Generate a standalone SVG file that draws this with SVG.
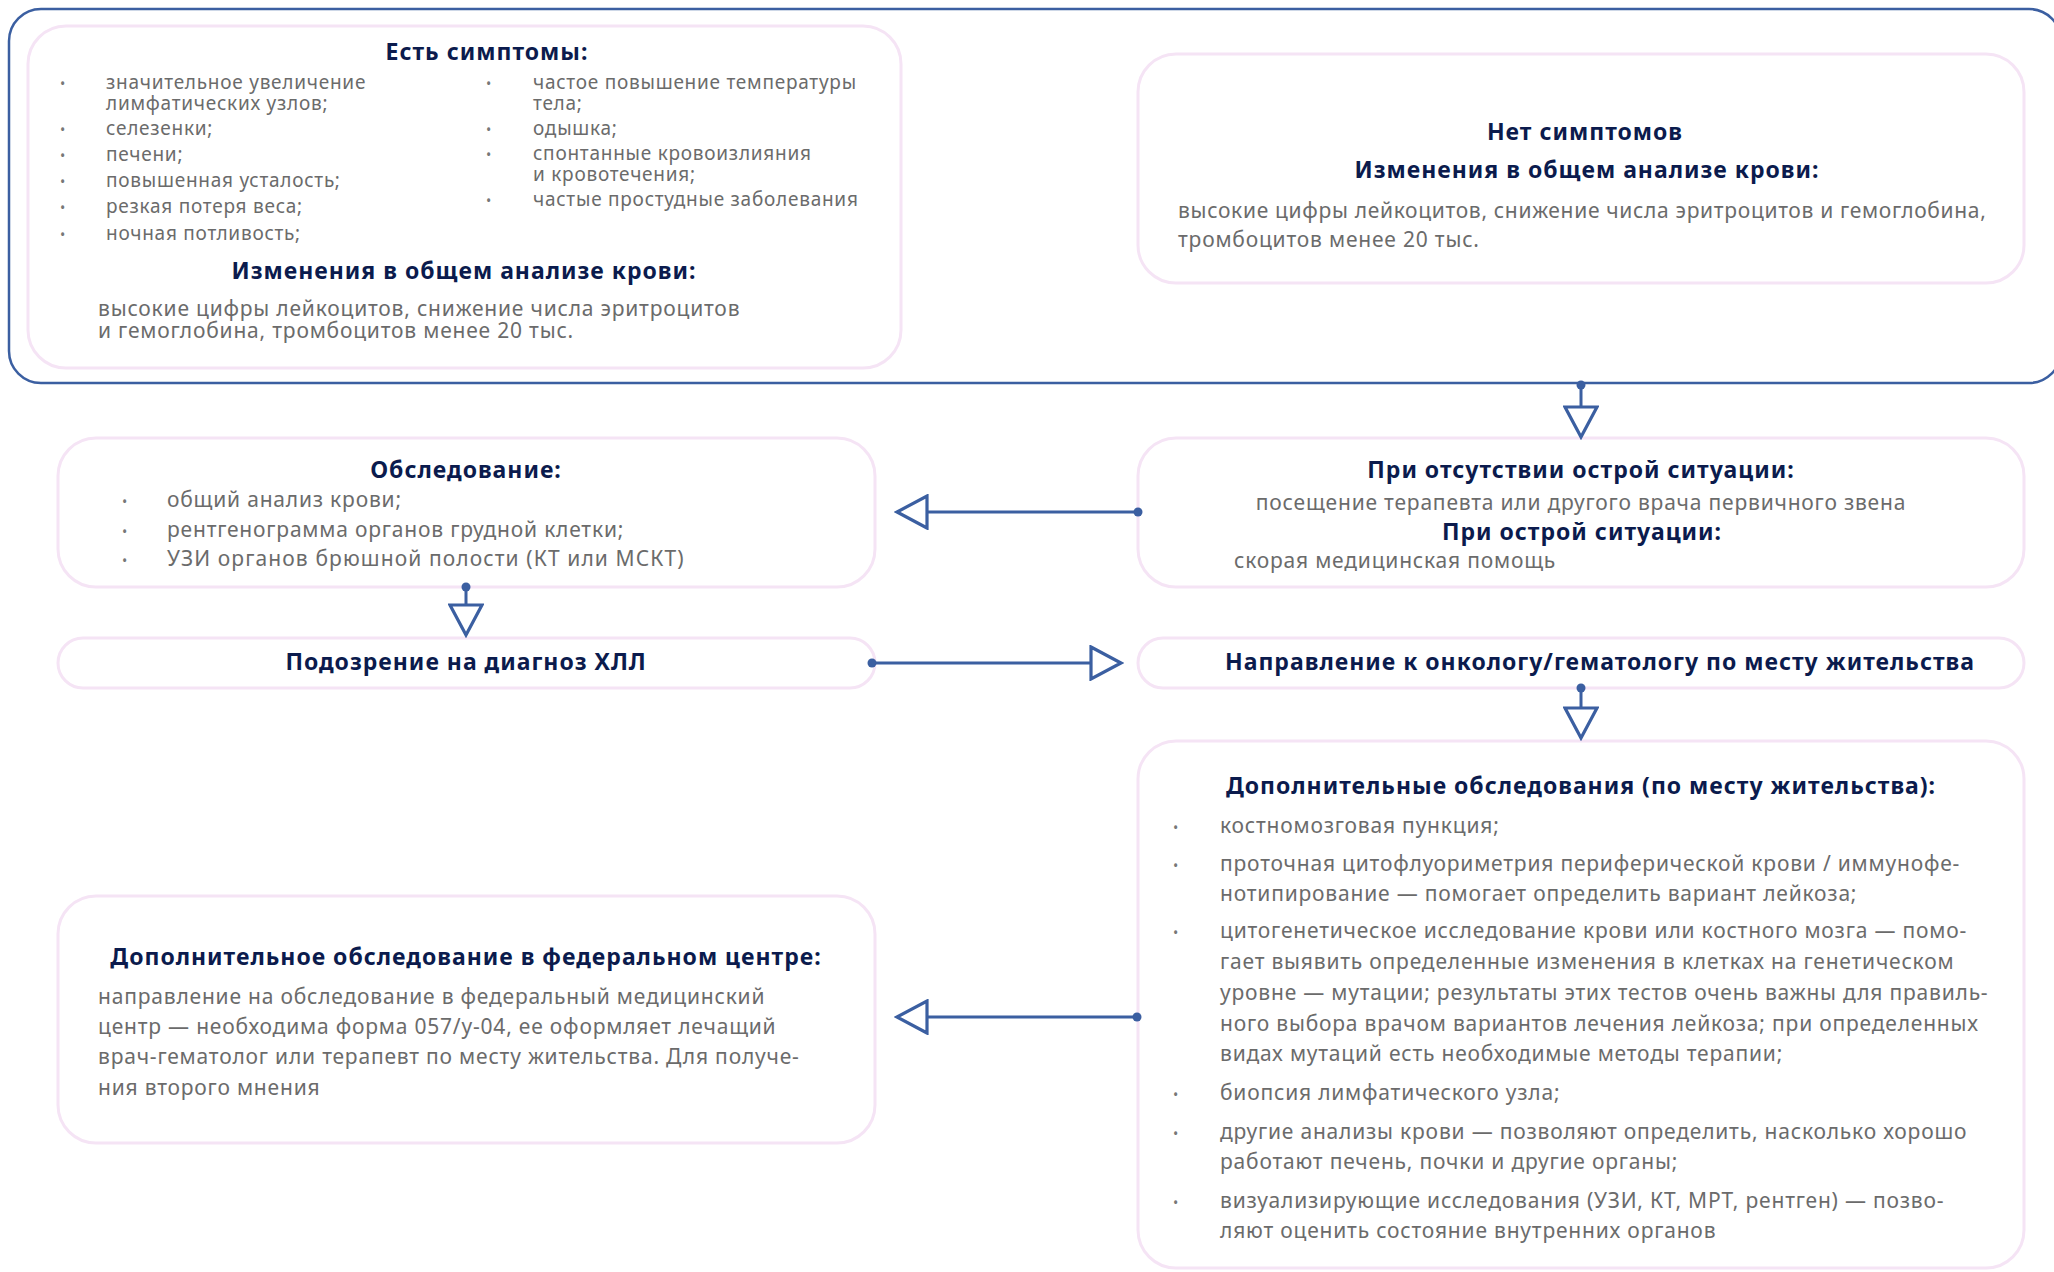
<svg xmlns="http://www.w3.org/2000/svg" width="2054" height="1272" viewBox="0 0 2054 1272">
<defs>
<style>
.box{fill:#fff;stroke:#f5e4f5;stroke-width:3}
.outer{fill:none;stroke:#3b5fa1;stroke-width:2.5}
.h{font-family:"Noto Sans","DejaVu Sans",sans-serif;font-weight:700;font-size:23px;fill:#0b1b4d;text-anchor:middle;letter-spacing:1px}
.t{font-family:"Noto Sans","DejaVu Sans",sans-serif;font-size:21px;fill:#6b6b6b;letter-spacing:0.8px}
.s{font-size:19px;letter-spacing:0.75px}
.c{text-anchor:middle}
.b{font-family:"Noto Sans","DejaVu Sans",sans-serif;font-size:14px;fill:#777}
.ln{fill:none;stroke:#3b5fa1;stroke-width:3}
</style>
<marker id="tri" viewBox="0 0 36 36" markerWidth="36" markerHeight="36" refX="33" refY="18" orient="auto" markerUnits="userSpaceOnUse">
<path d="M3,2 L33,18 L3,34 Z" fill="#fff" stroke="#3b5fa1" stroke-width="3.2" stroke-linejoin="miter"/>
</marker>
<marker id="dot" viewBox="0 0 12 12" markerWidth="12" markerHeight="12" refX="6" refY="6" orient="auto" markerUnits="userSpaceOnUse">
<circle cx="6" cy="6" r="4.5" fill="#3b5fa1"/>
</marker>
</defs>
<rect width="2054" height="1272" fill="#fff"/>

<g id="symptoms-group">
<rect class="outer" x="9" y="9" width="2052" height="374" rx="32"/>
</g>

<g id="node-symptoms">
<rect class="box" x="28" y="26" width="873" height="342" rx="38"/>
<text class="h" x="487" y="60">Есть симптомы:</text>
<text class="b" x="60" y="89">•</text>
<text class="t s" x="106" y="89">значительное увеличение</text>
<text class="t s" x="106" y="110">лимфатических узлов;</text>
<text class="b" x="60" y="135">•</text>
<text class="t s" x="106" y="135">селезенки;</text>
<text class="b" x="60" y="161">•</text>
<text class="t s" x="106" y="161">печени;</text>
<text class="b" x="60" y="187">•</text>
<text class="t s" x="106" y="187">повышенная усталость;</text>
<text class="b" x="60" y="213">•</text>
<text class="t s" x="106" y="213">резкая потеря веса;</text>
<text class="b" x="60" y="240">•</text>
<text class="t s" x="106" y="240">ночная потливость;</text>
<text class="b" x="486" y="89">•</text>
<text class="t s" x="533" y="89">частое повышение температуры</text>
<text class="t s" x="533" y="110">тела;</text>
<text class="b" x="486" y="135">•</text>
<text class="t s" x="533" y="135">одышка;</text>
<text class="b" x="486" y="160">•</text>
<text class="t s" x="533" y="160">спонтанные кровоизлияния</text>
<text class="t s" x="533" y="181">и кровотечения;</text>
<text class="b" x="486" y="206">•</text>
<text class="t s" x="533" y="206">частые простудные заболевания</text>
<text class="h" x="464" y="279">Изменения в общем анализе крови:</text>
<text class="t" x="98" y="316">высокие цифры лейкоцитов, снижение числа эритроцитов</text>
<text class="t" x="98" y="338">и гемоглобина, тромбоцитов менее 20 тыс.</text>
</g>

<g id="node-no-symptoms">
<rect class="box" x="1138" y="54" width="886" height="229" rx="38"/>
<text class="h" x="1585" y="140">Нет симптомов</text>
<text class="h" x="1587" y="178">Изменения в общем анализе крови:</text>
<text class="t" x="1178" y="218" style="letter-spacing:0.68px">высокие цифры лейкоцитов, снижение числа эритроцитов и гемоглобина,</text>
<text class="t" x="1178" y="247">тромбоцитов менее 20 тыс.</text>
</g>

<g id="node-situation">
<rect class="box" x="1138" y="438" width="886" height="149" rx="38"/>
<text class="h" x="1581" y="478">При отсутствии острой ситуации:</text>
<text class="t c" x="1581" y="510">посещение терапевта или другого врача первичного звена</text>
<text class="h" x="1582" y="540">При острой ситуации:</text>
<text class="t" x="1234" y="568">скорая медицинская помощь</text>
</g>

<g id="node-exam">
<rect class="box" x="58" y="438" width="817" height="149" rx="38"/>
<text class="h" x="466" y="478">Обследование:</text>
<text class="b" x="122" y="507">•</text>
<text class="t" x="167" y="507">общий анализ крови;</text>
<text class="b" x="122" y="537">•</text>
<text class="t" x="167" y="537">рентгенограмма органов грудной клетки;</text>
<text class="b" x="122" y="566">•</text>
<text class="t" x="167" y="566" style="letter-spacing:1.1px">УЗИ органов брюшной полости (КТ или МСКТ)</text>
</g>

<g id="node-suspicion">
<rect class="box" x="58" y="638" width="817" height="50" rx="25"/>
<text class="h" x="466" y="670">Подозрение на диагноз ХЛЛ</text>
</g>

<g id="node-referral">
<rect class="box" x="1138" y="638" width="886" height="50" rx="25"/>
<text class="h" x="1600" y="670">Направление к онкологу/гематологу по месту жительства</text>
</g>

<g id="node-additional-local">
<rect class="box" x="1138" y="741" width="886" height="527" rx="38"/>
<text class="h" x="1581" y="794">Дополнительные обследования (по месту жительства):</text>
<text class="b" x="1173" y="833">•</text>
<text class="t" x="1220" y="833">костномозговая пункция;</text>
<text class="b" x="1173" y="871">•</text>
<text class="t" x="1220" y="871">проточная цитофлуориметрия периферической крови / иммунофе-</text>
<text class="t" x="1220" y="901">нотипирование — помогает определить вариант лейкоза;</text>
<text class="b" x="1173" y="938">•</text>
<text class="t" x="1220" y="938">цитогенетическое исследование крови или костного мозга — помо-</text>
<text class="t" x="1220" y="969">гает выявить определенные изменения в клетках на генетическом</text>
<text class="t" x="1220" y="1000">уровне — мутации; результаты этих тестов очень важны для правиль-</text>
<text class="t" x="1220" y="1031">ного выбора врачом вариантов лечения лейкоза; при определенных</text>
<text class="t" x="1220" y="1061">видах мутаций есть необходимые методы терапии;</text>
<text class="b" x="1173" y="1100">•</text>
<text class="t" x="1220" y="1100">биопсия лимфатического узла;</text>
<text class="b" x="1173" y="1139">•</text>
<text class="t" x="1220" y="1139">другие анализы крови —  позволяют определить, насколько хорошо</text>
<text class="t" x="1220" y="1169">работают печень, почки и другие органы;</text>
<text class="b" x="1173" y="1208">•</text>
<text class="t" x="1220" y="1208">визуализирующие исследования (УЗИ, КТ, МРТ, рентген) — позво-</text>
<text class="t" x="1220" y="1238">ляют оценить состояние внутренних органов</text>
</g>

<g id="node-federal">
<rect class="box" x="58" y="896" width="817" height="247" rx="38"/>
<text class="h" x="466" y="965">Дополнительное обследование в федеральном центре:</text>
<text class="t" x="98" y="1004">направление на обследование в федеральный медицинский</text>
<text class="t" x="98" y="1034">центр — необходима форма 057/у-04, ее оформляет лечащий</text>
<text class="t" x="98" y="1064">врач-гематолог или терапевт по месту жительства. Для получе-</text>
<text class="t" x="98" y="1095">ния второго мнения</text>
</g>

<g id="connectors">
<path class="ln" d="M1581,385 L1581,437" marker-start="url(#dot)" marker-end="url(#tri)"/>
<path class="ln" d="M1138,512 L897,512" marker-start="url(#dot)" marker-end="url(#tri)"/>
<path class="ln" d="M466,587 L466,635" marker-start="url(#dot)" marker-end="url(#tri)"/>
<path class="ln" d="M872,663 L1121,663" marker-start="url(#dot)" marker-end="url(#tri)"/>
<path class="ln" d="M1581,688 L1581,738" marker-start="url(#dot)" marker-end="url(#tri)"/>
<path class="ln" d="M1137,1017 L897,1017" marker-start="url(#dot)" marker-end="url(#tri)"/>
</g>
</svg>
